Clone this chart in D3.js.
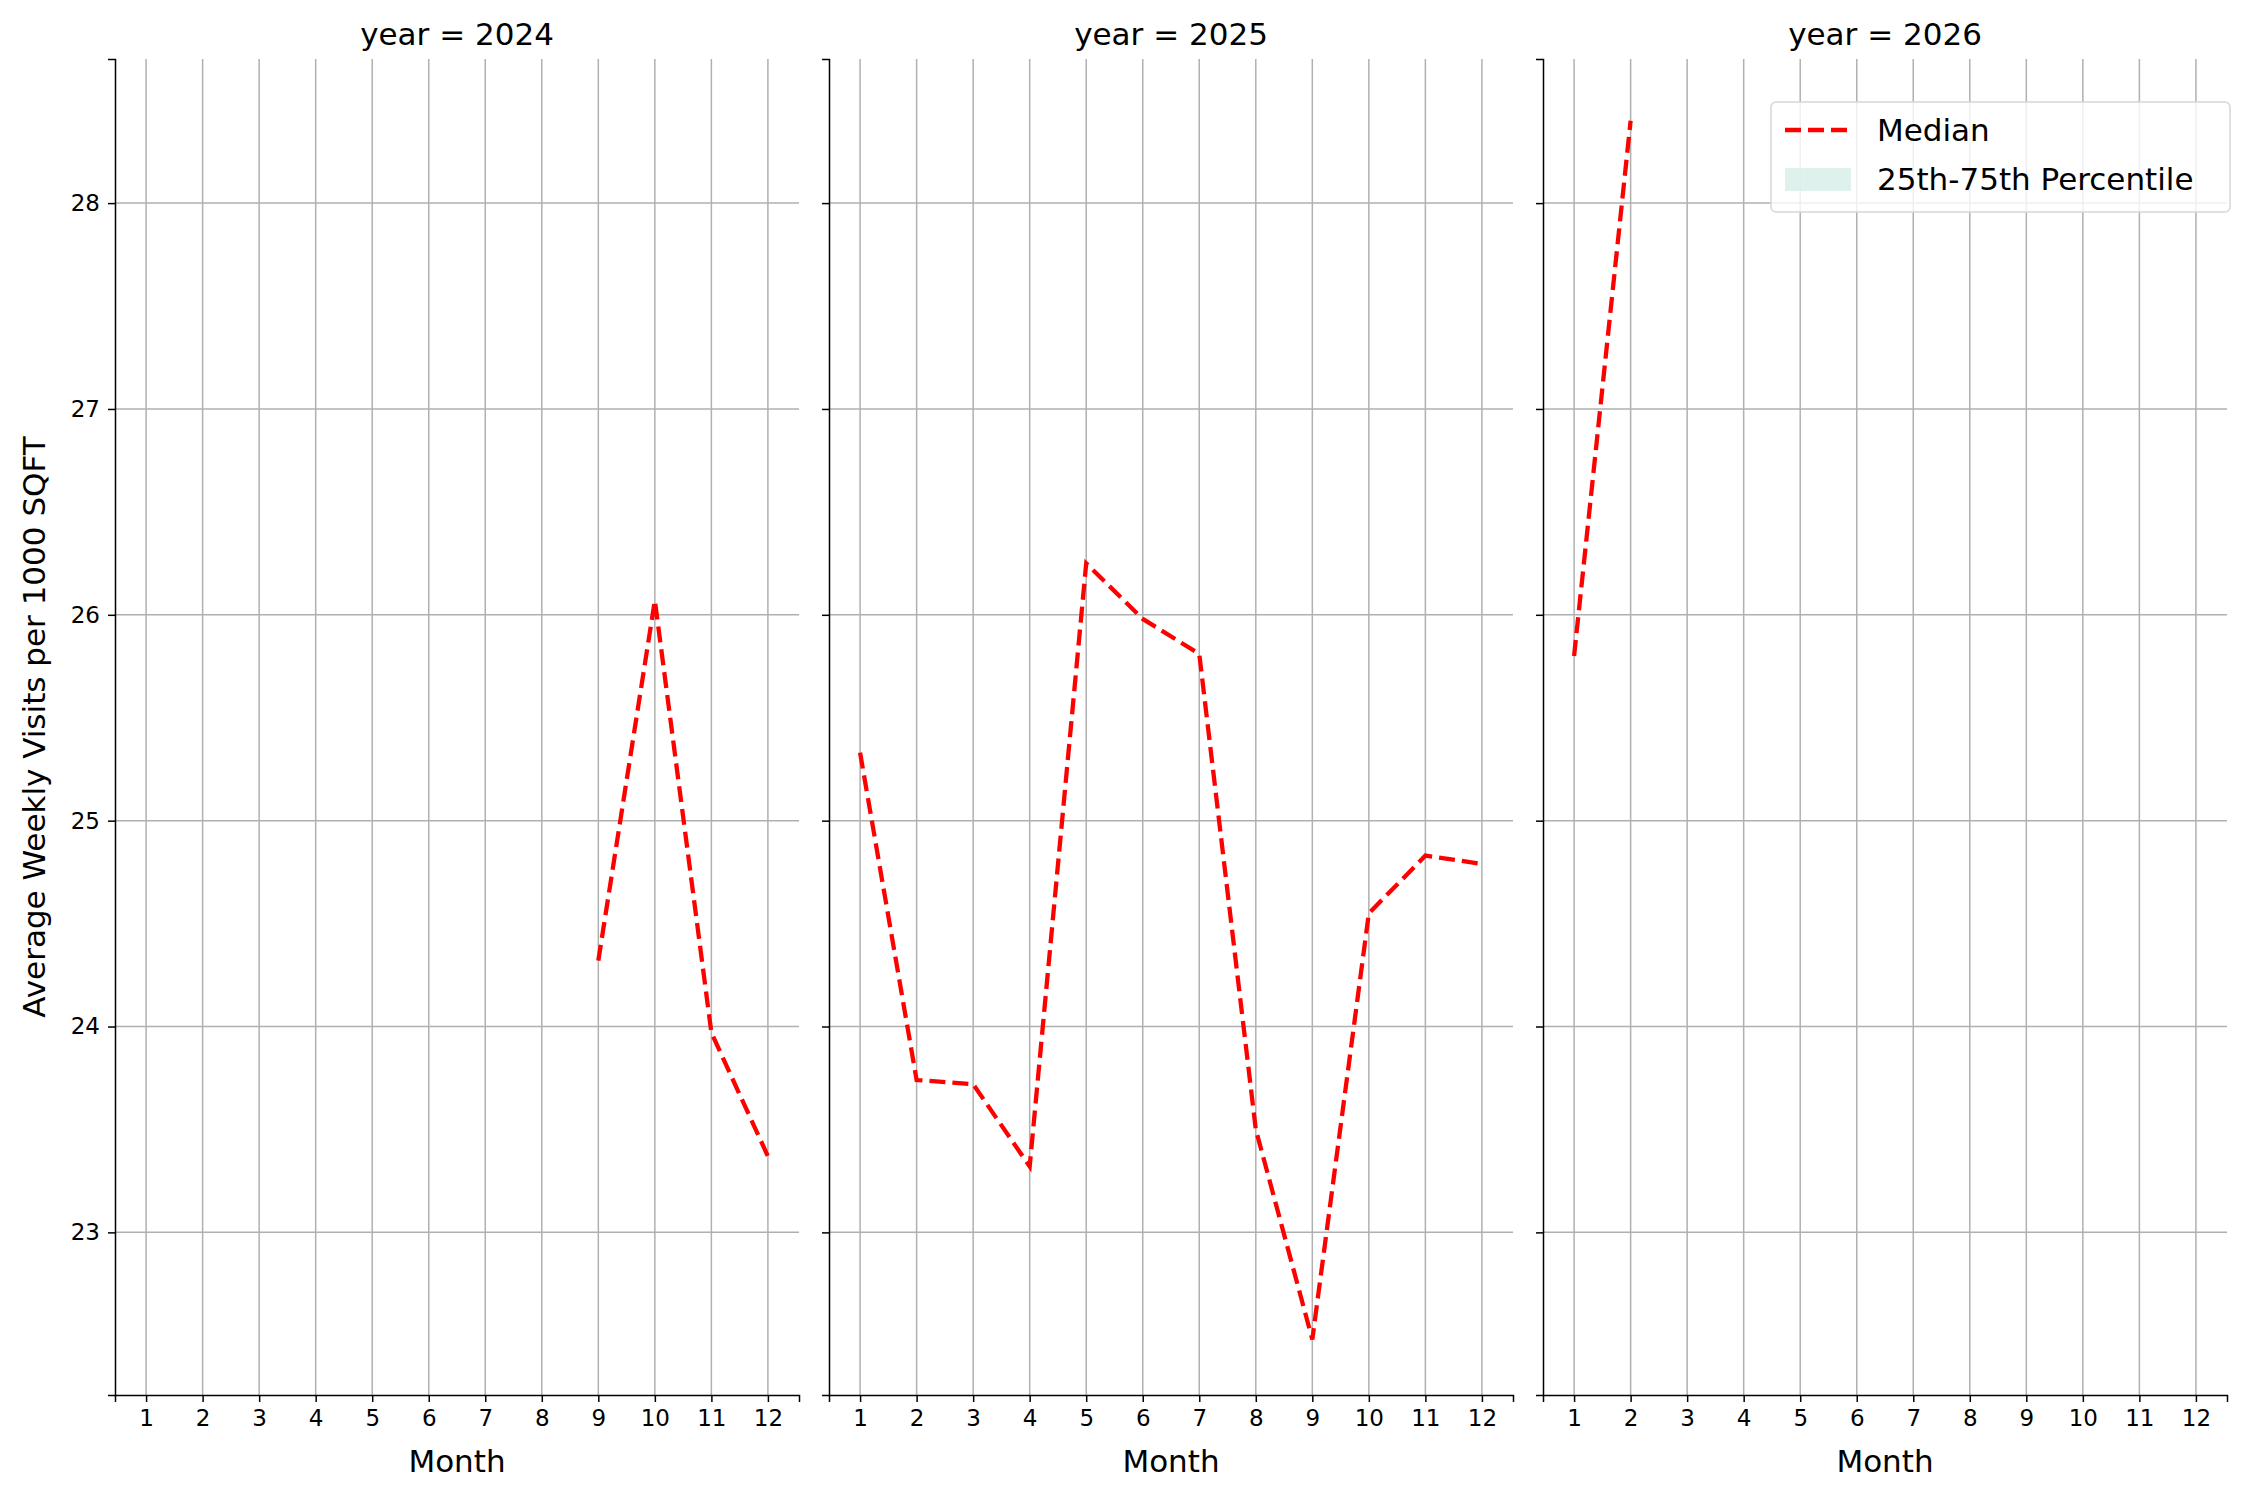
<!DOCTYPE html>
<html><head><meta charset="utf-8">
<script src="https://cdn.jsdelivr.net/npm/d3@7"></script>
<style>body{margin:0;background:#fff}text{font-family:"DejaVu Sans",sans-serif}</style>
</head><body><svg width="2250" height="1500"></svg>
<script>
const years = [2024, 2025, 2026];
const months = [1,2,3,4,5,6,7,8,9,10,11,12];
const yTicks = [23,24,25,26,27,28];
const median2024 = [[9,24.32],[10,26.07],[11,23.97],[12,23.37]];
const median2025 = [[1,25.33],[2,23.74],[3,23.72],[4,23.32],[5,26.25],[6,25.98],[7,25.81],[8,23.5],[9,22.48],[10,24.55],[11,24.83],[12,24.79]];
const median2026 = [[1,25.8],[2,28.4]];
const series = [median2024, median2025, median2026];

const svg = d3.select('svg');
const plotTop = 59, plotBottom = 1395;
const panelX = [115, 829, 1543], panelW = 684;
const y = d3.scaleLinear().domain([22.21, 28.7]).range([plotBottom, plotTop]);

years.forEach((yr, i) => {
  const x = d3.scaleLinear().domain([0.45, 12.55]).range([panelX[i], panelX[i] + panelW]);
  const g = svg.append('g');
  // grid
  g.selectAll('.vg').data(months).enter().append('line')
    .attr('x1', d => x(d)).attr('x2', d => x(d)).attr('y1', plotTop).attr('y2', plotBottom)
    .attr('stroke', '#b0b0b0').attr('stroke-width', 1.5);
  g.selectAll('.hg').data(yTicks).enter().append('line')
    .attr('x1', panelX[i]).attr('x2', panelX[i] + panelW).attr('y1', d => y(d)).attr('y2', d => y(d))
    .attr('stroke', '#b0b0b0').attr('stroke-width', 1.5);
  // axes
  const xa = g.append('g').attr('transform', `translate(0,${plotBottom})`)
    .call(d3.axisBottom(x).tickValues(months).tickSize(7).tickPadding(8));
  xa.select('.domain').attr('stroke-width', 1.5);
  xa.selectAll('text').attr('font-size', 23).attr('font-family', 'DejaVu Sans');
  const ya = g.append('g').attr('transform', `translate(${panelX[i]},0)`)
    .call(d3.axisLeft(y).tickValues(yTicks).tickSize(7).tickPadding(8).tickFormat(i === 0 ? d3.format('d') : ''));
  ya.select('.domain').attr('stroke-width', 1.5);
  ya.selectAll('text').attr('font-size', 23).attr('font-family', 'DejaVu Sans');
  g.selectAll('.tick line').attr('stroke-width', 1.5);
  // median line
  g.append('path').datum(series[i])
    .attr('d', d3.line().x(d => x(d[0])).y(d => y(d[1])))
    .attr('fill', 'none').attr('stroke', 'red').attr('stroke-width', 4.3)
    .attr('stroke-dasharray', '16,7');
  g.append('text').attr('x', panelX[i] + panelW / 2).attr('y', 45).attr('text-anchor', 'middle')
    .attr('font-size', 31).text(`year = ${yr}`);
  g.append('text').attr('x', panelX[i] + panelW / 2).attr('y', 1472).attr('text-anchor', 'middle')
    .attr('font-size', 31).text('Month');
});

svg.append('text').attr('transform', `translate(45,${(plotTop + plotBottom) / 2}) rotate(-90)`)
  .attr('text-anchor', 'middle').attr('font-size', 31).text('Average Weekly Visits per 1000 SQFT');

// legend
const lg = svg.append('g').attr('transform', 'translate(1771,102)');
lg.append('rect').attr('width', 459).attr('height', 110).attr('rx', 5)
  .attr('fill', 'rgba(255,255,255,0.8)').attr('stroke', '#d6d6d6').attr('stroke-width', 1.5);
lg.append('line').attr('x1', 14).attr('x2', 80).attr('y1', 28).attr('y2', 28)
  .attr('stroke', 'red').attr('stroke-width', 4.3).attr('stroke-dasharray', '16,7');
lg.append('rect').attr('x', 14).attr('y', 66).attr('width', 66).attr('height', 23).attr('fill', '#d8efe9').attr('opacity', 0.85);
lg.append('text').attr('x', 106).attr('y', 39).attr('font-size', 31).text('Median');
lg.append('text').attr('x', 106).attr('y', 88).attr('font-size', 31).text('25th-75th Percentile');
</script></body></html>
